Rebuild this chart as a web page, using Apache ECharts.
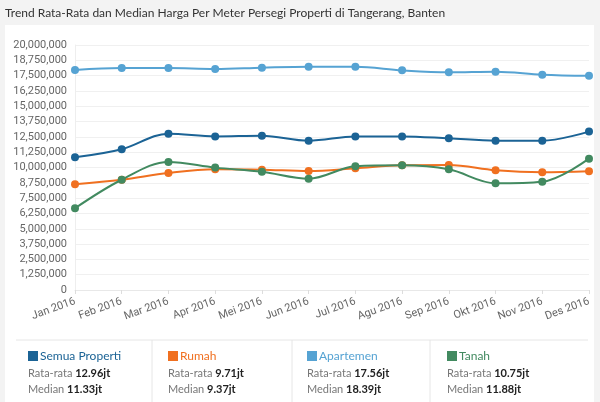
<!DOCTYPE html>
<html>
<head>
<meta charset="utf-8">
<script src="https://cdn.jsdelivr.net/npm/echarts@6/dist/echarts.min.js"></script>
<style>
  html, body { margin: 0; padding: 0; background: #f3f3f3; }
  #panel { position: absolute; left: 5px; top: 25px; width: 589px; height: 377px; background: #fff; }
  #main { position: absolute; left: 0; top: 0; width: 600px; height: 402px; }
</style>
</head>
<body>
<div id="panel"></div>
<div id="main"></div>
<script>
// data
const months = ['Jan 2016', 'Feb 2016', 'Mar 2016', 'Apr 2016', 'Mei 2016', 'Jun 2016',
  'Jul 2016', 'Agu 2016', 'Sep 2016', 'Okt 2016', 'Nov 2016', 'Des 2016'];
const semuaProperti = [10830000, 11490000, 12760000, 12540000, 12600000, 12190000,
  12540000, 12540000, 12380000, 12190000, 12190000, 12930000];
const rumah = [8630000, 9000000, 9550000, 9850000, 9820000, 9710000,
  9930000, 10180000, 10200000, 9770000, 9610000, 9690000];
const apartemen = [17960000, 18120000, 18120000, 18040000, 18150000, 18230000,
  18230000, 17930000, 17770000, 17820000, 17580000, 17490000];
const tanah = [6670000, 9000000, 10450000, 9990000, 9660000, 9090000,
  10100000, 10180000, 9850000, 8710000, 8840000, 10720000];

const seriesNames = ['Semua Properti', 'Rumah', 'Apartemen', 'Tanah'];
const seriesData = [semuaProperti, rumah, apartemen, tanah];
const colors = ['#1b6395', '#f07020', '#56a3d3', '#428a60'];
const rataRata = ['12.96jt', '9.71jt', '17.56jt', '10.75jt'];
const median = ['11.33jt', '9.37jt', '18.39jt', '11.88jt'];

const chart = echarts.init(document.getElementById('main'));

const fontFamily = 'Lato, "Open Sans", sans-serif';
const colX = [28, 168, 307, 447];
const graphics = [
  {
    type: 'text', left: 5, top: 7,
    style: { text: 'Trend Rata-Rata dan Median Harga Per Meter Persegi Properti di Tangerang, Banten',
      fill: '#333', font: '12px ' + fontFamily }
  },
  { type: 'line', shape: { x1: 16, y1: 340, x2: 588, y2: 340 }, style: { stroke: '#e6e6e6', lineWidth: 1 } }
];
[152, 292, 430].forEach(function (x) {
  graphics.push({ type: 'line', shape: { x1: x, y1: 340, x2: x, y2: 402 }, style: { stroke: '#e6e6e6', lineWidth: 1 } });
});
for (let i = 0; i < seriesNames.length; i++) {
  graphics.push({ type: 'rect', shape: { x: colX[i], y: 351, width: 10, height: 10 }, style: { fill: colors[i] } });
  graphics.push({
    type: 'text', x: colX[i] + 12, y: 350,
    style: { text: seriesNames[i], fill: colors[i], font: '12px ' + fontFamily }
  });
  graphics.push({
    type: 'text', x: colX[i], y: 368,
    style: {
      text: '{a|Rata-rata }{b|' + rataRata[i] + '}',
      rich: {
        a: { fill: '#777', font: '11px ' + fontFamily },
        b: { fill: '#222', font: 'bold 11px ' + fontFamily }
      }
    }
  });
  graphics.push({
    type: 'text', x: colX[i], y: 384,
    style: {
      text: '{a|Median }{b|' + median[i] + '}',
      rich: {
        a: { fill: '#777', font: '11px ' + fontFamily },
        b: { fill: '#222', font: 'bold 11px ' + fontFamily }
      }
    }
  });
}

const option = {
  animation: false,
  color: colors,
  textStyle: { fontFamily: fontFamily },
  grid: { left: 75, right: 11, top: 45, bottom: 112, containLabel: false },
  xAxis: {
    type: 'category',
    boundaryGap: false,
    data: months,
    axisLine: { lineStyle: { color: '#e8e8e8' } },
    axisTick: { show: true, alignWithLabel: true, length: 4, lineStyle: { color: '#ddd' } },
    axisLabel: { color: '#666', fontSize: 11, rotate: 20, margin: 11, interval: 0, fontFamily: 'Roboto, sans-serif' },
    splitLine: { show: false }
  },
  yAxis: {
    type: 'value',
    min: 0,
    max: 20000000,
    interval: 1250000,
    axisLine: { show: true, lineStyle: { color: '#eee' } },
    axisTick: { show: false },
    axisLabel: {
      color: '#666', fontSize: 11, margin: 8, fontFamily: 'Roboto, sans-serif',
      formatter: function (v) { return v.toLocaleString('en-US'); }
    },
    splitLine: { lineStyle: { color: '#f0f0f0' } }
  },
  series: seriesNames.map(function (name, i) {
    return {
      name: name,
      type: 'line',
      smooth: 0.35,
      data: seriesData[i],
      symbol: 'circle',
      symbolSize: 8,
      lineStyle: { width: 2 },
      z: 3 + (i === 3 ? 1 : 0)
    };
  }),
  graphic: graphics
};

chart.setOption(option);
</script>
</body>
</html>
